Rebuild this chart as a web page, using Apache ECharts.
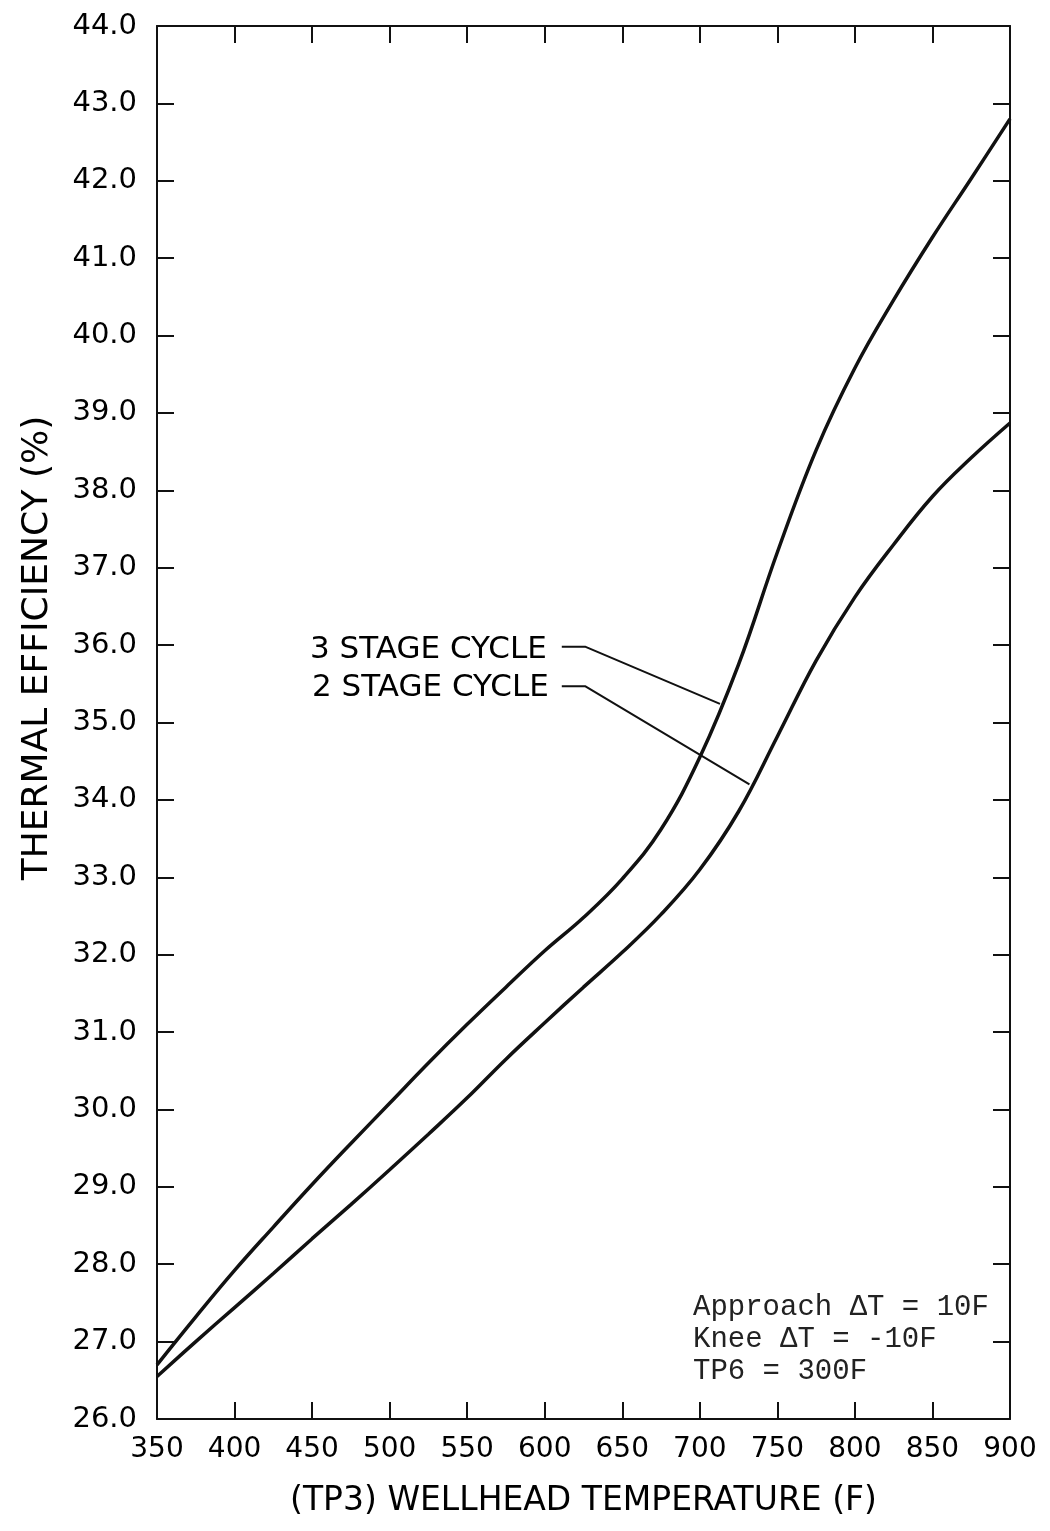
<!DOCTYPE html>
<html>
<head>
<meta charset="utf-8">
<script src="https://cdn.jsdelivr.net/npm/echarts@6/dist/echarts.min.js"></script>
<style>
html,body{margin:0;padding:0;background:#fff;}
#chart{width:1050px;height:1531px;}
</style>
</head>
<body>
<div id="chart"></div>
<script>
// ---- data ----
const temps = [350,375,400,425,450,475,500,525,550,575,600,625,650,675,700,725,750,775,800,825,850,875,900];
const threeStage = [26.7,27.32,27.92,28.48,29.03,29.56,30.08,30.6,31.1,31.58,32.05,32.48,32.98,33.62,34.55,35.75,37.2,38.52,39.58,40.46,41.27,42.03,42.8];
const twoStage = [26.55,27.0,27.44,27.88,28.33,28.77,29.22,29.68,30.15,30.65,31.12,31.58,32.03,32.52,33.1,33.85,34.82,35.8,36.62,37.3,37.92,38.42,38.87];
const xTicks = [350,400,450,500,550,600,650,700,750,800,850,900];
const yTicks = [26,27,28,29,30,31,32,33,34,35,36,37,38,39,40,41,42,43,44];
// leader lines (data coords)
const leader3 = [[611,35.98],[626,35.98],[713,35.24]];
const leader2 = [[611,35.47],[626,35.47],[732,34.2]];
const seriesNames = ['3 STAGE CYCLE','2 STAGE CYCLE'];
const noteLines = ['Approach \u0394T = 10F','Knee \u0394T = -10F','TP6 = 300F'];
const xTitle = '(TP3) WELLHEAD TEMPERATURE (F)';
const yTitle = 'THERMAL EFFICIENCY (%)';

const ink = '#111';
const font = 'DejaVu Sans';
const chart = echarts.init(document.getElementById('chart'), null, {renderer:'canvas'});

function zip(xs, ys){ return xs.map((x,i)=>[x, ys[i]]); }

const axisCommon = {
  axisLine:{show:true, onZero:false, lineStyle:{color:ink, width:2}},
  axisTick:{show:true, inside:true, length:17, lineStyle:{color:ink, width:2}},
  splitLine:{show:false}
};

const option = {
  animation:false,
  backgroundColor:'#fff',
  grid:{left:157, right:40, top:26, bottom:112, containLabel:false, outerBoundsMode:'none'},
  xAxis:[
    Object.assign({
      type:'value', position:'bottom', min:350, max:900, interval:50,
      name:xTitle, nameLocation:'middle', nameGap:66,
      nameTextStyle:{fontFamily:font, fontSize:33, color:'#000'},
      axisLabel:{fontFamily:font, fontSize:28, color:'#000', margin:17,
        formatter:v=>xTicks.includes(v)?String(v):''}
    }, axisCommon),
    Object.assign({
      type:'value', position:'top', min:350, max:900, interval:50,
      axisLabel:{show:false}
    }, axisCommon)
  ],
  yAxis:[
    Object.assign({
      type:'value', position:'left', min:26, max:44, interval:1,
      axisLabel:{fontFamily:font, fontSize:29, color:'#000', margin:20,
        formatter:v=>yTicks.includes(v)?v.toFixed(1):''}
    }, axisCommon),
    Object.assign({
      type:'value', position:'right', min:26, max:44, interval:1,
      axisLabel:{show:false}
    }, axisCommon)
  ],
  series:[
    {name:seriesNames[0], type:'line', data:zip(temps, threeStage), smooth:0.4,
     showSymbol:false, lineStyle:{color:ink, width:3.5}, silent:true, z:3},
    {name:seriesNames[1], type:'line', data:zip(temps, twoStage), smooth:0.4,
     showSymbol:false, lineStyle:{color:ink, width:3.5}, silent:true, z:3},
    {type:'line', data:leader3, smooth:false, showSymbol:false,
     lineStyle:{color:ink, width:2}, silent:true},
    {type:'line', data:leader2, smooth:false, showSymbol:false,
     lineStyle:{color:ink, width:2}, silent:true}
  ]
};
chart.setOption(option);

// labels for leader lines, axis title and note block
const p3 = chart.convertToPixel({gridIndex:0}, leader3[0]);
const p2 = chart.convertToPixel({gridIndex:0}, leader2[0]);
const noteFont = '"Liberation Mono", "DejaVu Sans Mono", monospace';
chart.setOption({
  graphic:[
    {type:'text', x:38, y:648, rotation:Math.PI/2, style:{text:yTitle, fill:'#000',
      font:'36px "DejaVu Sans"', align:'center', verticalAlign:'middle'}},
    {type:'text', x:p3[0]-15, y:p3[1]+3, style:{text:seriesNames[0], fill:'#000',
      font:'31px "DejaVu Sans"', align:'right', verticalAlign:'middle'}},
    {type:'text', x:p2[0]-13, y:p2[1]+2, style:{text:seriesNames[1], fill:'#000',
      font:'31px "DejaVu Sans"', align:'right', verticalAlign:'middle'}},
    {type:'text', x:693, y:1307, style:{text:noteLines[0], fill:'#222',
      font:'29px '+noteFont, align:'left', verticalAlign:'middle'}},
    {type:'text', x:693, y:1339, style:{text:noteLines[1], fill:'#222',
      font:'29px '+noteFont, align:'left', verticalAlign:'middle'}},
    {type:'text', x:693, y:1371, style:{text:noteLines[2], fill:'#222',
      font:'29px '+noteFont, align:'left', verticalAlign:'middle'}}
  ]
});
</script>
</body>
</html>
